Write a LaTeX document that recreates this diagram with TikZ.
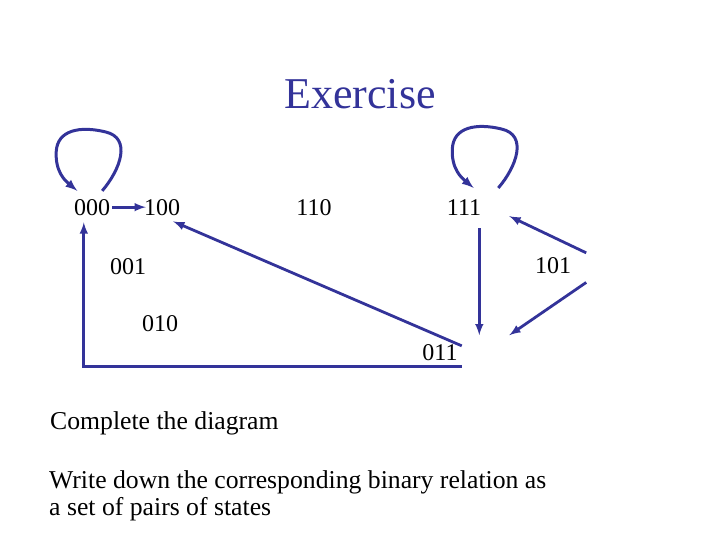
\documentclass[tikz,border=0pt]{standalone}
\usepackage{fontspec}
\setmainfont{Liberation Serif}
\usepackage{tikz}
\usetikzlibrary{calc}

\definecolor{slideblue}{RGB}{51,51,153}
\tikzset{
  state/.style={font=\fontsize{24}{28}\selectfont, inner sep=0pt, anchor=base},
  trans/.style={->, draw=slideblue, line width=2.8pt},
  loopline/.style={->, draw=slideblue, line width=3pt},
  plain/.style={font=\fontsize{25.7}{29}\selectfont, inner sep=0pt, anchor=base west}
}

\begin{document}
\begin{tikzpicture}[x=1pt,y=-1pt,>=latex]
\useasboundingbox (0,0) rectangle (720,540);
\node[name=title, font=\fontsize{44}{50}\selectfont, text=slideblue, inner sep=0pt, anchor=base] at (360,109) {Exercise};

\node[state, name=s000] at (92,215) {000};
\node[state, name=s100] at (162,215) {100};
\node[state, name=s110] at (314,215) {110};
\node[state, name=s111] at (464,215) {111};
\node[state, name=s001] at (128,274) {001};
\node[state, name=s101] at (553,273) {101};
\node[state, name=s010] at (160,331) {010};
\node[state, name=s011] at (440,360) {011};

\node[plain, name=task_1] at (50,429) {Complete the diagram};
\node[plain, name=task_2] at (49,488) {Write down the corresponding binary relation as};
\node[plain, name=task_3] at (49,515) {a set of pairs of states};

% self loops
\draw[loopline] ($(s000.north east)+(-8,-8)$) .. controls +(18,-21) and +(27,6) .. ++(3,-59)
  .. controls +(-25,-6) and +(1,-22) .. ++(-49,20)
  .. controls +(-1,20) and +(-12,-10) .. ($(s000.north west)+(3.5,-8)$);
\draw[loopline] ($(s111.north east)+(17,-11)$) .. controls +(18,-21) and +(27,6) .. ++(3,-59)
  .. controls +(-25,-6) and +(1,-22) .. ++(-49,20)
  .. controls +(-1,20) and +(-12,-10) .. ($(s111.north west)+(27,-11)$);

% transitions
\draw(s000.east) edge[trans, shorten <=2pt, shorten >=-2pt](s100.west);
\draw($(s011.north east)+(4,2)$) edge[trans]($(s100.south east)+(-7,6)$);
\draw[trans] ($(s011.south east)+(4,6)$) -| ($(s000.south west)+(10,7)$);
\draw($(s111.south east)+(-2,13)$) edge[trans]($(s111.south east)+(-2,120)$);
\draw($(s101.north east)+(15,-4)$) edge[trans]($(s111.south east)+(28,1)$);
\draw($(s101.south east)+(15,9)$) edge[trans]($(s111.south east)+(28,120)$);
\end{tikzpicture}
\end{document}
